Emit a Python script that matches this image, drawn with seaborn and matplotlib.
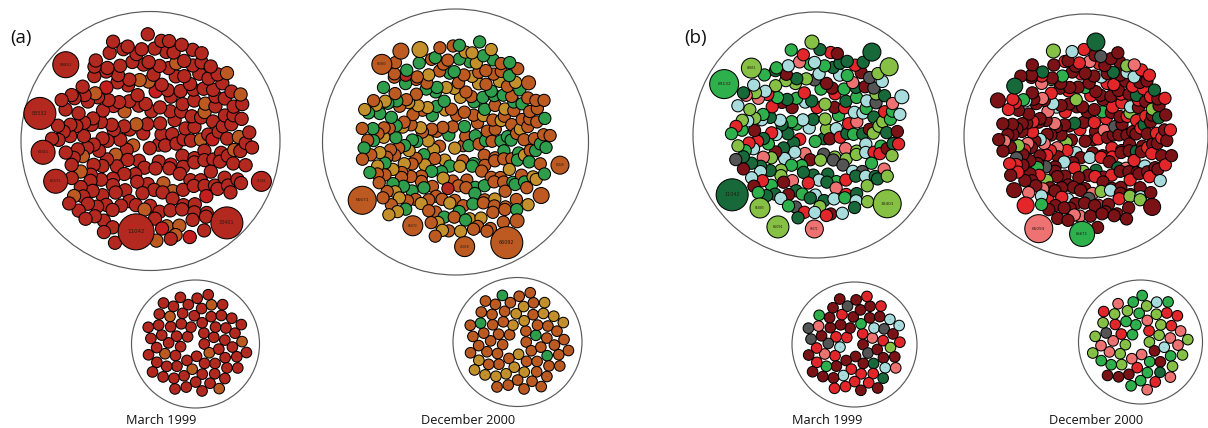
import numpy as np
import pandas as pd
import matplotlib
matplotlib.use("Agg")
import matplotlib.pyplot as plt
from matplotlib.patches import Circle
import seaborn as sns

# ---------------------------------------------------------------- data
panel_tags = ["(a)", "(b)"]
period_labels = ["March 1999", "December 2000"]

# node categories of each panel
cats_a = ["firebrick", "crimson", "rust", "ochre", "emerald"]
cats_b = ["maroon", "scarlet", "salmon", "powder", "slate", "forest", "kelly", "lime"]

# node counts per category: main component / remaining nodes
a_mar_main = [218, 7, 25, 0, 0]
a_dec_main = [2, 0, 142, 55, 84]
a_mar_rest = [63, 0, 7, 0, 0]
a_dec_rest = [0, 0, 50, 16, 4]

b_mar_main = [21, 26, 12, 36, 10, 45, 34, 30]
b_dec_main = [162, 62, 17, 18, 5, 10, 6, 12]
b_mar_rest = [28, 18, 4, 6, 6, 2, 3, 1]
b_dec_rest = [5, 9, 12, 2, 1, 1, 14, 16]

# hub nodes: id, category, size
a_mar_hub_id = ["89851", "83532", "61661", "65671", "11042", "30401", "11044"]
a_mar_hub_cat = ["firebrick"] * 7
a_mar_hub_size = [13, 16, 12, 12, 18, 16, 10]

a_dec_hub_id = ["65883", "65671", "65672", "66092", "45018", "10449", "", "", "", "", ""]
a_dec_hub_cat = ["rust"] * 10 + ["ochre"]
a_dec_hub_size = [10, 14, 10, 16, 10, 9, 8, 8, 7, 7, 8]

b_mar_hub_id = ["83132", "11042", "65883", "66091", "65671", "30401", "89851", "", "", "", ""]
b_mar_hub_cat = ["kelly", "forest", "lime", "lime", "salmon", "lime", "lime",
                 "forest", "lime", "powder", "lime"]
b_mar_hub_size = [14.5, 16, 10, 11, 9, 14, 10, 9, 9, 7, 7]

b_dec_hub_id = ["65093", "65671", "", "", "", "", "", "", ""]
b_dec_hub_cat = ["salmon", "kelly", "scarlet", "maroon", "forest", "forest",
                 "maroon", "lime", "maroon"]
b_dec_hub_size = [14, 12.5, 8.5, 8.5, 9, 8, 7.5, 7, 7.5]

# ---------------------------------------------------------------- styles
PALETTE = {
    "firebrick": "#B3281F", "crimson": "#C41E1E", "rust": "#BC5A22",
    "ochre": "#C4902C", "emerald": "#2E9E4C",
    "maroon": "#7A1216", "scarlet": "#E2262A", "salmon": "#EE7272",
    "powder": "#A9DCDD", "slate": "#555555", "forest": "#17693A",
    "kelly": "#2EB04C", "lime": "#86C146",
}

# ---------------------------------------------------------------- layout
# containers: centre, radius, fill radius of node centres, node radius
LAYOUT = {
    "a_mar_main": dict(c=(150.5, 141), R=129.5, fill=106, r=6.6, wob=4.0, k0=0.5),
    "a_dec_main": dict(c=(455.5, 142), R=133, fill=101, r=6.1, wob=4.0, k0=0.5),
    "a_mar_rest": dict(c=(195.5, 344), R=64, fill=52, r=5.3, wob=0.0, k0=2.0),
    "a_dec_rest": dict(c=(517.5, 342), R=64.5, fill=52, r=5.3, wob=0.0, k0=2.0),
    "b_mar_main": dict(c=(816, 135), R=123, fill=89, r=6.1, wob=4.0, k0=0.5),
    "b_dec_main": dict(c=(1086, 136), R=122, fill=91, r=6.1, wob=4.0, k0=0.5),
    "b_mar_rest": dict(c=(854.5, 344.5), R=62.5, fill=50, r=5.3, wob=0.0, k0=2.0),
    "b_dec_rest": dict(c=(1140.5, 342), R=62, fill=49, r=5.3, wob=0.0, k0=2.0),
}
# hub placement around the rim (angle in degrees, distance from centre)
HUB_RING = {
    "a_mar_main": ([138, 166, 186, 203, 261, 313, 340],
                   [114, 114, 108, 103, 92, 112, 118]),
    "a_dec_main": ([133.5, 212, 243, 297, 275, 347.5, 121, 328, 39, 308, 111],
                   [107, 110, 94, 113, 105, 107, 106, 101, 94, 100, 99]),
    "b_mar_main": ([151, 215.5, 232.5, 247.5, 269, 316, 134, 56, 43, 24, 92.5],
                   [105, 103, 92, 99.5, 94, 99, 93, 100, 100, 94, 93]),
    "b_dec_main": ([243, 267.7, 229, 313, 84, 145, 158, 111, 217],
                   [104, 98, 92, 97, 94.5, 87, 95, 91, 90]),
}

GOLDEN = np.pi * (3 - np.sqrt(5))


def interleave(cats, counts):
    keys, labs = [], []
    for c, n in zip(cats, counts):
        for i in range(n):
            keys.append((i + 0.5) / n)
            labs.append(c)
    order = np.argsort(keys, kind="stable")
    return [labs[i] for i in order]


def sunflower(n, cfg, hubs):
    cx, cy = cfg["c"]
    fill, rn, k0, wob = cfg["fill"], cfg["r"], cfg["k0"], cfg["wob"]
    c = fill / np.sqrt(n)
    pts = []
    for _ in range(10):
        pts, k = [], 0
        while len(pts) < n:
            rr = c * np.sqrt(k + k0)
            th = k * GOLDEN
            x = cx + rr * np.cos(th) + wob * np.sin(k * 2.39 + 1.1)
            y = cy - rr * np.sin(th) + wob * np.cos(k * 1.73 + 0.4)
            if all(np.hypot(x - hx, y - hy) > hr + 0.6 * rn for hx, hy, hr in hubs):
                pts.append((x, y))
            k += 1
        last = c * np.sqrt(k - 1 + k0)
        c *= fill / last
    return pts


def build(key, cats, counts, hub_id=None, hub_cat=None, hub_size=None):
    cfg = LAYOUT[key]
    cx, cy = cfg["c"]
    hubs = []
    rows = []
    if hub_id is not None:
        ang, dist = HUB_RING[key]
        for lab, cat, sz, a, d in zip(hub_id, hub_cat, hub_size, ang, dist):
            hx = cx + d * np.cos(np.radians(a))
            hy = cy - d * np.sin(np.radians(a))
            hubs.append((hx, hy, sz))
            rows.append(dict(x=hx, y=hy, cat=cat, rad=float(sz), label=lab,
                             hub=1, box=key))
    seq = interleave(cats, counts)
    for (x, y), cat in zip(sunflower(len(seq), cfg, hubs), seq):
        rows.append(dict(x=x, y=y, cat=cat, rad=float(cfg["r"]), label="",
                         hub=0, box=key))
    return rows


rows = []
rows += build("a_mar_main", cats_a, a_mar_main, a_mar_hub_id, a_mar_hub_cat, a_mar_hub_size)
rows += build("a_dec_main", cats_a, a_dec_main, a_dec_hub_id, a_dec_hub_cat, a_dec_hub_size)
rows += build("a_mar_rest", cats_a, a_mar_rest)
rows += build("a_dec_rest", cats_a, a_dec_rest)
rows += build("b_mar_main", cats_b, b_mar_main, b_mar_hub_id, b_mar_hub_cat, b_mar_hub_size)
rows += build("b_dec_main", cats_b, b_dec_main, b_dec_hub_id, b_dec_hub_cat, b_dec_hub_size)
rows += build("b_mar_rest", cats_b, b_mar_rest)
rows += build("b_dec_rest", cats_b, b_dec_rest)

nodes = pd.DataFrame(rows).sort_values("hub", kind="stable").reset_index(drop=True)

# ---------------------------------------------------------------- figure
sns.set_theme(style="white")
plt.rcParams["font.family"] = ["Open Sans", "DejaVu Sans"]

W, H = 1208, 428
fig = plt.figure(figsize=(W / 100, H / 100), dpi=100)
ax = fig.add_axes([0, 0, 1, 1])

PX = 0.72  # points per pixel
size_map = {r: (2 * r * PX) ** 2 for r in nodes["rad"].unique()}

sns.scatterplot(data=nodes, x="x", y="y", hue="cat", palette=PALETTE,
                size="rad", sizes=size_map, edgecolor="black", linewidth=0.75,
                legend=False, ax=ax, zorder=3)

# enclosing circles
for key, cfg in LAYOUT.items():
    ax.add_patch(Circle(cfg["c"], cfg["R"], fill=False, ec="#5a5a5a",
                        lw=0.85, zorder=2))

# node labels
for _, n in nodes.iterrows():
    if n["hub"] and n["label"] and n["rad"] >= 9:
        ax.text(n["x"], n["y"], n["label"], fontsize=n["rad"] * 0.22,
                color="#2a1a12", ha="center", va="center", zorder=5,
                family="DejaVu Sans")
    elif not n["hub"]:
        main = n["box"].endswith("main")
        ax.text(n["x"], n["y"], "–", fontsize=2.2 if main else 3.0,
                color="#1a1a1a", alpha=0.35 if main else 0.55,
                ha="center", va="center", zorder=4)

# panel tags and period captions
ax.text(10, 38, panel_tags[0], fontsize=13.5, ha="left", va="center", color="#111111")
ax.text(684, 38, panel_tags[1], fontsize=13.5, ha="left", va="center", color="#111111")
for x, lab in zip([161, 468, 827, 1096], period_labels * 2):
    ax.text(x, 421, lab, fontsize=9.2, ha="center", va="center", color="#111111")

ax.set_xlim(0, W)
ax.set_ylim(H, 0)
ax.axis("off")
fig.savefig("out.png", dpi=100, facecolor="white")
